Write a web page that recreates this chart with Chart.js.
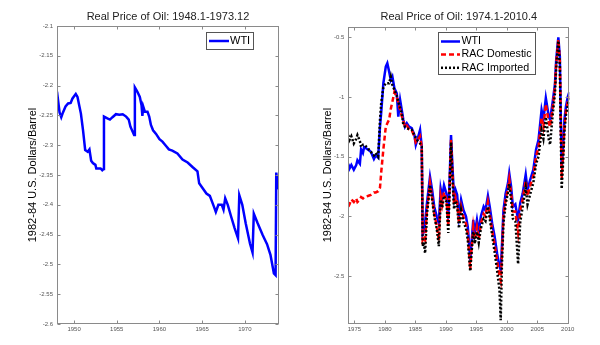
<!DOCTYPE html>
<html>
<head>
<meta charset="utf-8">
<script src="https://cdn.jsdelivr.net/npm/chart.js@4.4.1/dist/chart.umd.min.js"></script>
<style>
  html, body { margin: 0; padding: 0; background: #fff; }
  #wrap { position: relative; width: 600px; height: 345px; }
  canvas { position: absolute; top: 0; }
  #left { left: 0; }
  #right { left: 300px; }
</style>
</head>
<body>
<div id="wrap">
  <canvas id="left" width="300" height="345"></canvas>
  <canvas id="right" width="300" height="345"></canvas>
</div>
<script>
// ---- data: left panel (WTI, 1948.1-1973.12) ----
const leftYears = [1948.0, 1948.3, 1948.5, 1948.7, 1949.0, 1949.3, 1949.6, 1949.8, 1950.0, 1950.2,
  1950.4, 1950.8, 1951.05, 1951.3, 1951.6, 1951.8, 1952.0, 1952.2, 1952.5, 1952.6,
  1953.1, 1953.3, 1953.45, 1953.5, 1953.9, 1954.2, 1954.5, 1954.9, 1955.3, 1955.7,
  1956.1, 1956.4, 1956.6, 1957.03, 1957.12, 1957.4, 1957.7, 1957.9, 1958.0, 1958.1,
  1958.3, 1958.6, 1958.8, 1959.0, 1959.25, 1959.6, 1960.0, 1960.35, 1960.7, 1961.1,
  1961.5, 1962.1, 1962.7, 1963.3, 1963.9, 1964.45, 1964.65, 1965.0, 1965.5, 1965.9,
  1966.4, 1966.6, 1966.9, 1967.3, 1967.5, 1967.7, 1968.0, 1968.4, 1968.8, 1969.2,
  1969.35, 1969.7, 1970.1, 1970.6, 1970.9, 1971.05, 1971.5, 1972.1, 1972.6, 1973.0,
  1973.4, 1973.6, 1973.68, 1973.85, 1973.92];
const leftWTI = [-2.210, -2.245, -2.253, -2.245, -2.235, -2.230, -2.229, -2.222, -2.218, -2.214,
  -2.219, -2.247, -2.275, -2.308, -2.311, -2.307, -2.326, -2.330, -2.333, -2.339,
  -2.339, -2.342, -2.340, -2.252, -2.255, -2.257, -2.253, -2.248, -2.249, -2.248,
  -2.252, -2.257, -2.269, -2.283, -2.203, -2.210, -2.219, -2.233, -2.251, -2.235,
  -2.244, -2.244, -2.252, -2.266, -2.275, -2.281, -2.290, -2.294, -2.300, -2.307,
  -2.309, -2.314, -2.324, -2.329, -2.337, -2.344, -2.364, -2.371, -2.381, -2.385,
  -2.404, -2.412, -2.400, -2.400, -2.408, -2.389, -2.400, -2.420, -2.439, -2.456,
  -2.384, -2.400, -2.431, -2.465, -2.480, -2.415, -2.431, -2.451, -2.466, -2.484,
  -2.515, -2.518, -2.346, -2.367, -2.374];
const leftXTicks = [1950, 1955, 1960, 1965, 1970];
const leftYTicks = [-2.6, -2.55, -2.5, -2.45, -2.4, -2.35, -2.3, -2.25, -2.2, -2.15, -2.1];

// ---- data: right panel (1974.1-2010.4) ----
const rightYears = [1974.0, 1974.2, 1974.5, 1974.9, 1975.3, 1975.5, 1975.9, 1976.1, 1976.4, 1976.6,
  1977.2, 1977.7, 1978.2, 1978.5, 1978.9, 1979.2, 1979.4, 1979.75, 1980.15, 1980.4,
  1980.7, 1980.97, 1981.23, 1981.56, 1981.95, 1982.2, 1982.5, 1982.77, 1983.03, 1983.3,
  1983.6, 1983.97, 1984.4, 1984.84, 1985.07, 1985.4, 1985.77, 1986.05, 1986.2, 1986.4,
  1986.6, 1986.9, 1987.4, 1987.75, 1988.1, 1988.5, 1988.85, 1989.15, 1989.4, 1989.7,
  1990.1, 1990.4, 1990.65, 1990.85, 1991.1, 1991.35, 1991.6, 1991.85, 1992.15, 1992.5,
  1992.9, 1993.3, 1993.6, 1993.85, 1994.0, 1994.2, 1994.5, 1994.75, 1995.1, 1995.4,
  1995.75, 1996.2, 1996.5, 1996.9, 1997.2, 1997.6, 1998.0, 1998.4, 1998.8, 1999.0,
  1999.2, 1999.45, 1999.8, 2000.2, 2000.4, 2000.7, 2001.0, 2001.4, 2001.85, 2002.2,
  2002.6, 2003.1, 2003.4, 2003.8, 2004.35, 2004.8, 2005.2, 2005.7, 2006.0, 2006.4,
  2006.9, 2007.1, 2007.5, 2007.9, 2008.1, 2008.45, 2008.7, 2008.85, 2009.0, 2009.2,
  2009.45, 2009.7, 2010.0, 2010.25];
const rightWTI = [-1.56, -1.60, -1.57, -1.61, -1.57, -1.53, -1.56, -1.44, -1.47, -1.42,
  -1.44, -1.46, -1.52, -1.49, -1.51, -1.25, -1.13, -0.885, -0.746, -0.718,
  -0.788, -0.858, -0.830, -0.927, -0.969, -1.165, -1.025, -1.109, -1.193, -1.249,
  -1.220, -1.249, -1.262, -1.318, -1.402, -1.346, -1.276, -1.416, -2.15, -2.13,
  -2.05, -1.89, -1.67, -1.78, -1.92, -2.00, -2.06, -1.77, -1.84, -1.74,
  -1.81, -2.02, -1.64, -1.32, -1.60, -1.84, -1.78, -1.82, -2.00, -1.86,
  -1.95, -2.00, -2.09, -2.25, -2.37, -2.23, -2.03, -2.14, -2.03, -2.13,
  -2.00, -1.92, -1.95, -1.83, -1.92, -2.06, -2.17, -2.31, -2.42, -2.45,
  -2.25, -1.95, -1.81, -1.72, -1.64, -1.75, -1.92, -1.90, -2.03, -1.89,
  -1.81, -1.65, -1.78, -1.70, -1.61, -1.44, -1.36, -1.11, -1.19, -1.01,
  -1.17, -1.19, -1.05, -0.89, -0.69, -0.50, -0.66, -1.14, -1.60, -1.45,
  -1.19, -1.08, -1.00, -0.96];
const rightRACDom = [-1.92, -1.90, -1.86, -1.88, -1.85, -1.88, -1.86, -1.84, -1.85, -1.84,
  -1.83, -1.82, -1.80, -1.80, -1.79, -1.76, -1.63, -1.44, -1.25, -1.22,
  -1.19, -1.10, -1.04, -0.96, -1.00, -1.05, -1.11, -1.16, -1.20, -1.25,
  -1.24, -1.27, -1.28, -1.33, -1.38, -1.36, -1.33, -1.42, -2.20, -2.18,
  -2.20, -1.95, -1.72, -1.84, -1.98, -2.08, -2.20, -1.83, -1.90, -1.80,
  -1.86, -2.08, -1.70, -1.36, -1.66, -1.90, -1.84, -1.88, -2.06, -1.92,
  -2.01, -2.06, -2.15, -2.33, -2.45, -2.28, -2.09, -2.19, -2.09, -2.19,
  -2.06, -1.98, -2.00, -1.88, -1.98, -2.12, -2.24, -2.37, -2.50, -2.54,
  -2.32, -2.00, -1.86, -1.77, -1.69, -1.80, -1.96, -1.96, -2.14, -1.95,
  -1.86, -1.70, -1.83, -1.75, -1.66, -1.50, -1.42, -1.17, -1.25, -1.06,
  -1.22, -1.25, -1.10, -0.92, -0.72, -0.52, -0.70, -1.20, -1.68, -1.52,
  -1.25, -1.12, -1.04, -0.99];
const rightRACImp = [-1.32, -1.36, -1.33, -1.39, -1.35, -1.32, -1.37, -1.42, -1.40, -1.40,
  -1.43, -1.46, -1.49, -1.47, -1.50, -1.19, -1.05, -0.92, -0.885, -0.885,
  -0.885, -0.830, -0.900, -0.94, -0.99, -1.04, -1.09, -1.14, -1.235, -1.25,
  -1.262, -1.27, -1.276, -1.32, -1.34, -1.37, -1.39, -1.416, -2.25, -2.22,
  -2.31, -1.98, -1.74, -1.86, -2.00, -2.10, -2.25, -1.86, -1.93, -1.83,
  -1.88, -2.14, -1.72, -1.38, -1.70, -1.94, -1.87, -1.91, -2.10, -1.95,
  -2.05, -2.10, -2.20, -2.37, -2.46, -2.32, -2.13, -2.23, -2.13, -2.22,
  -2.10, -2.02, -2.04, -1.92, -2.02, -2.16, -2.30, -2.45, -2.62, -2.87,
  -2.40, -2.06, -1.90, -1.80, -1.73, -1.86, -2.02, -2.04, -2.40, -2.05,
  -1.92, -1.76, -1.90, -1.82, -1.72, -1.56, -1.50, -1.28, -1.35, -1.17,
  -1.36, -1.40, -1.16, -0.97, -0.76, -0.53, -0.74, -1.30, -1.77, -1.58,
  -1.29, -1.15, -1.07, -1.01];
const rightXTicks = [1975, 1980, 1985, 1990, 1995, 2000, 2005, 2010];
const rightYTicks = [-2.5, -2, -1.5, -1, -0.5];

const FONT = "'Liberation Sans', Arial, Helvetica, sans-serif";

function pts(xs, ys) {
  return xs.map((x, i) => ({ x: x, y: ys[i] }));
}

// MATLAB-like box: grey frame + short inward ticks on all four sides
const boxFrame = {
  id: 'boxFrame',
  afterDraw(chart) {
    const { ctx, chartArea: a, scales: { x, y } } = chart;
    const L = Math.round(a.left) + 0.5, R = Math.round(a.right) - 0.5;
    const T = Math.round(a.top) + 0.5, B = Math.round(a.bottom) - 0.5;
    ctx.save();
    ctx.strokeStyle = '#8a8a8a';
    ctx.lineWidth = 1;
    ctx.strokeRect(L, T, R - L, B - T);
    ctx.beginPath();
    x.ticks.forEach((t) => {
      const px = Math.round(x.getPixelForValue(t.value)) + 0.5;
      ctx.moveTo(px, B); ctx.lineTo(px, B - 3);
      ctx.moveTo(px, T); ctx.lineTo(px, T + 3);
    });
    y.ticks.forEach((t) => {
      const py = Math.round(y.getPixelForValue(t.value)) + 0.5;
      ctx.moveTo(L, py); ctx.lineTo(L + 3, py);
      ctx.moveTo(R, py); ctx.lineTo(R - 3, py);
    });
    ctx.stroke();
    ctx.restore();
  }
};

// legend box inside the plot, built from the datasets
const boxLegend = {
  id: 'boxLegend',
  afterDraw(chart, args, opts) {
    const ctx = chart.ctx;
    const b = opts.box;
    ctx.save();
    ctx.fillStyle = '#fff';
    ctx.fillRect(b[0], b[1], b[2], b[3]);
    ctx.strokeStyle = '#555';
    ctx.lineWidth = 1;
    ctx.strokeRect(b[0] + 0.5, b[1] + 0.5, b[2], b[3]);
    chart.data.datasets.forEach((ds, i) => {
      const yy = opts.rowY[i];
      ctx.strokeStyle = ds.borderColor;
      ctx.lineWidth = ds.borderWidth;
      ctx.setLineDash(ds.borderDash || []);
      ctx.beginPath();
      ctx.moveTo(opts.lineX[0], yy);
      ctx.lineTo(opts.lineX[1], yy);
      ctx.stroke();
      ctx.setLineDash([]);
      ctx.fillStyle = '#000';
      ctx.font = opts.fontSize + 'px ' + FONT;
      ctx.textBaseline = 'middle';
      ctx.textAlign = 'left';
      ctx.fillText(ds.label, opts.textX, yy);
    });
    ctx.restore();
  }
};

function makeOptions(cfg) {
  return {
    responsive: false,
    animation: false,
    devicePixelRatio: 1,
    layout: { padding: { left: 0, right: cfg.padRight, top: 0, bottom: 0 } },
    elements: { point: { radius: 0 }, line: { tension: 0 } },
    plugins: {
      legend: { display: false },
      tooltip: { enabled: false },
      title: {
        display: true,
        text: cfg.title,
        fullSize: false,
        color: '#222',
        font: { family: FONT, size: 11, weight: 'normal' },
        padding: { top: 10, bottom: cfg.titleBottom }
      },
      boxLegend: cfg.legend
    },
    scales: {
      x: {
        type: 'linear',
        min: cfg.xMin,
        max: cfg.xMax,
        grid: { display: false, drawTicks: false },
        border: { display: false },
        afterBuildTicks: (s) => { s.ticks = cfg.xTicks.map((v) => ({ value: v })); },
        afterFit: (s) => { s.height = cfg.xHeight; },
        ticks: {
          autoSkip: false,
          maxRotation: 0,
          padding: 2,
          color: '#555',
          font: { family: FONT, size: 6 },
          callback: (v) => String(v)
        }
      },
      y: {
        type: 'linear',
        min: cfg.yMin,
        max: cfg.yMax,
        grid: { display: false, drawTicks: false },
        border: { display: false },
        afterBuildTicks: (s) => { s.ticks = cfg.yTicks.map((v) => ({ value: v })); },
        afterFit: (s) => { s.width = cfg.yWidth; },
        ticks: {
          padding: 4,
          color: '#555',
          font: { family: FONT, size: 6 },
          callback: (v) => String(v)
        },
        title: {
          display: true,
          text: '1982-84 U.S. Dollars/Barrel',
          color: '#000',
          font: { family: FONT, size: 11 },
          padding: { top: cfg.yTitlePad, bottom: 0 }
        }
      }
    }
  };
}

new Chart(document.getElementById('left'), {
  type: 'line',
  data: {
    datasets: [{
      label: 'WTI',
      data: pts(leftYears, leftWTI),
      borderColor: '#0000ff',
      borderWidth: 2.5,
      fill: false
    }]
  },
  options: makeOptions({
    title: 'Real Price of Oil: 1948.1-1973.12',
    titleBottom: 2.8,
    padRight: 21,
    xMin: 1948, xMax: 1974, xTicks: leftXTicks, xHeight: 21,
    yMin: -2.6, yMax: -2.1, yTicks: leftYTicks, yWidth: 57, yTitlePad: 26,
    legend: { box: [206, 32, 47, 17], rowY: [41], lineX: [209, 229], textX: 230, fontSize: 11 }
  }),
  plugins: [boxFrame, boxLegend]
});

new Chart(document.getElementById('right'), {
  type: 'line',
  data: {
    datasets: [
      {
        label: 'WTI',
        data: pts(rightYears, rightWTI),
        borderColor: '#0000ff',
        borderWidth: 2.5,
        order: 3,
        fill: false
      },
      {
        label: 'RAC Domestic',
        data: pts(rightYears, rightRACDom),
        borderColor: '#ff0000',
        borderWidth: 2.5,
        borderDash: [5, 3],
        order: 2,
        fill: false
      },
      {
        label: 'RAC Imported',
        data: pts(rightYears, rightRACImp),
        borderColor: '#000000',
        borderWidth: 2.5,
        borderDash: [2, 2],
        order: 1,
        fill: false
      }
    ]
  },
  options: makeOptions({
    title: 'Real Price of Oil: 1974.1-2010.4',
    titleBottom: 3.3,
    padRight: 30.7,
    xMin: 1974, xMax: 2010.25, xTicks: rightXTicks, xHeight: 21.3,
    yMin: -2.9, yMax: -0.41, yTicks: rightYTicks, yWidth: 48.3, yTitlePad: 21,
    legend: { box: [138, 32, 97, 42], rowY: [41.5, 54.5, 67.8], lineX: [141, 160], textX: 161.5, fontSize: 10.7 }
  }),
  plugins: [boxFrame, boxLegend]
});
</script>
</body>
</html>
